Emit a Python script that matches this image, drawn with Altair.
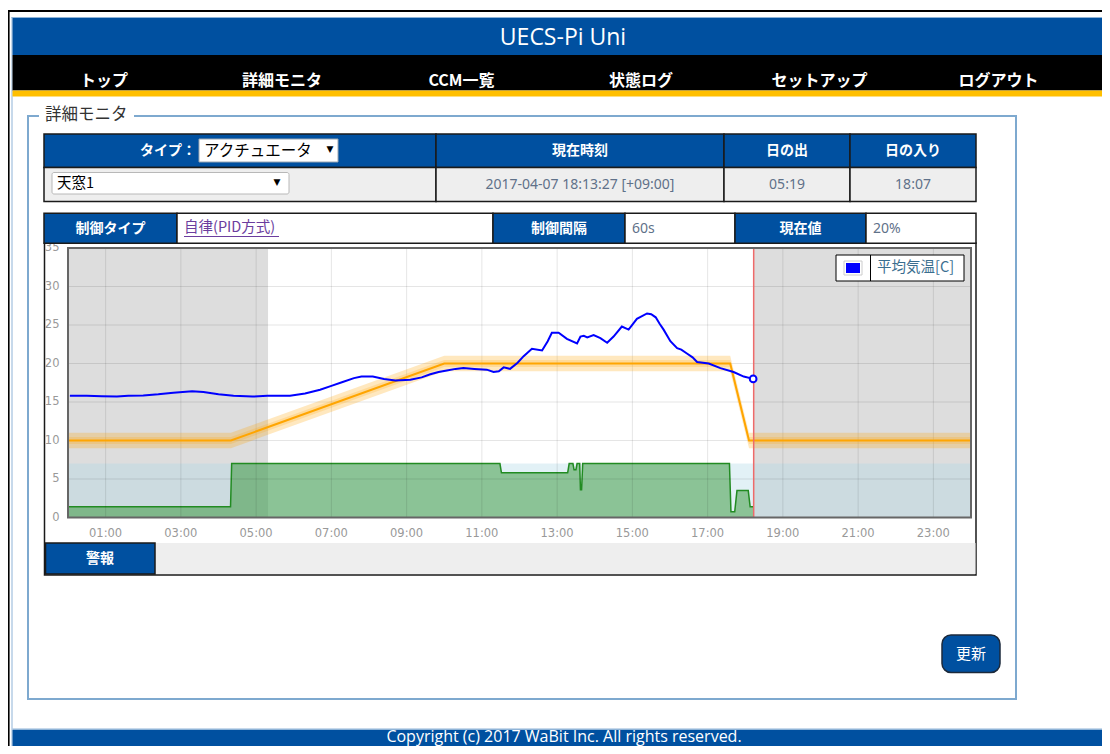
import altair as alt
import pandas as pd

OFF = 8.0
BLUE = "#0050a0"
JP = "Noto Sans CJK JP"
LAT = "Open Sans"
TICKF = "DejaVu Sans"
GRAYTXT = "#5f7189"

# ---------------- data ----------------
temp_hours = [0.05, 0.5, 0.9, 1.3, 1.6, 2.0, 2.4, 2.8, 3.3, 3.6,
              4.0, 4.4, 4.9, 5.3, 5.6, 5.9, 6.3, 6.7, 7.0, 7.3,
              7.6, 7.8, 8.1, 8.4, 8.7, 9.1, 9.4, 9.63, 9.85, 10.07,
              10.3, 10.51, 10.8, 11.13, 11.31, 11.45, 11.58, 11.75, 11.95, 12.11,
              12.33, 12.6, 12.75, 12.86, 13.04, 13.26, 13.53, 13.62, 13.71, 13.8,
              13.97, 14.15, 14.33, 14.5, 14.72, 14.9, 15.12, 15.39, 15.5, 15.62,
              15.72, 15.83, 16.01, 16.19, 16.3, 16.45, 16.6, 16.72, 17.03, 17.34,
              17.69, 17.96, 18.21]
temp_values = [15.8, 15.8, 15.75, 15.7, 15.8, 15.85, 16.0, 16.2, 16.4, 16.3,
               16.0, 15.8, 15.7, 15.8, 15.8, 15.8, 16.1, 16.6, 17.1, 17.6,
               18.1, 18.3, 18.3, 18.0, 17.8, 17.9, 18.2, 18.6, 18.9, 19.1,
               19.3, 19.4, 19.3, 19.2, 18.9, 19.0, 19.5, 19.3, 20.1, 20.95,
               21.9, 21.7, 22.9, 24.0, 24.0, 23.2, 22.6, 23.5, 23.6, 23.4,
               23.7, 23.3, 22.7, 23.5, 24.8, 24.4, 25.8, 26.5, 26.4, 26.0,
               25.2, 24.4, 22.9, 22.0, 21.8, 21.3, 20.8, 20.2, 20.0, 19.4,
               18.9, 18.3, 18.0]

act_hours = [0.0, 4.32, 4.35, 11.48, 11.52, 13.28, 13.32, 13.42, 13.45, 13.5,
             13.53, 13.6, 13.62, 13.65, 13.68, 17.58, 17.62, 17.72, 17.78, 18.08,
             18.13, 18.21]
act_values = [1.4, 1.4, 7.0, 7.0, 5.8, 5.8, 7.0, 7.0, 6.2, 6.2,
              7.0, 7.0, 3.6, 3.6, 7.0, 7.0, 0.75, 0.75, 3.5, 3.5,
              1.4, 1.4]
act_max = 7.0

sp_hours = [0.0, 4.33, 10.0, 17.6, 18.1, 24.0]
sp_values = [10, 10, 20, 20, 10, 10]

y_ticks = [0, 5, 10, 15, 20, 25, 30, 35]
x_tick_hours = [1, 3, 5, 7, 9, 11, 13, 15, 17, 19, 21, 23]
x_tick_labels = ["01:00", "03:00", "05:00", "07:00", "09:00", "11:00",
                 "13:00", "15:00", "17:00", "19:00", "21:00", "23:00"]

sunrise_h = 5 + 19 / 60
now_h = 18 + 13 / 60 + 27 / 3600

nav_items = ["トップ", "詳細モニタ", "CCM一覧", "状態ログ", "セットアップ", "ログアウト"]

# ---------------- helpers ----------------
ONE = alt.Data(values=[{"k": 0}])


def box(x1, y1, x2, y2, fill="white", stroke=None, sw=1.0, r=0, opacity=1.0):
    kw = dict(fill=fill, opacity=opacity)
    if stroke:
        kw.update(stroke=stroke, strokeWidth=sw)
    if r:
        kw["cornerRadius"] = r
    return alt.Chart(ONE).mark_rect(**kw).encode(
        x=alt.value(x1 - OFF), x2=alt.value(x2 - OFF),
        y=alt.value(y1 - OFF), y2=alt.value(y2 - OFF))


def label(s, x, y, size=14, color="white", align="center", weight="normal",
          font=JP, baseline="middle"):
    return alt.Chart(ONE).mark_text(
        text=s, fontSize=size, color=color, align=align, baseline=baseline,
        font=font, fontWeight=weight).encode(
        x=alt.value(x - OFF), y=alt.value(y - OFF))


def hline(x1, x2, y, color, w=1.0):
    return alt.Chart(ONE).mark_rule(color=color, strokeWidth=w).encode(
        x=alt.value(x1 - OFF), x2=alt.value(x2 - OFF), y=alt.value(y - OFF))


layers = []

# ---------------- page frame / header ----------------
layers += [
    box(8, 10, 1110, 12, fill="black"),
    box(8, 10, 9.6, 754, fill="black"),
    box(11.5, 17, 1110, 18, fill="#8fb4d8"),
    box(11.5, 17, 12.5, 754, fill="#8fb4d8"),
    box(12.5, 18, 1110, 55, fill=BLUE),
    box(12.5, 55, 1110, 90.5, fill="black"),
    box(12.5, 90.5, 1110, 96.5, fill="#ffbf00"),
    label("UECS-Pi Uni", 563, 37.5, size=23, font=LAT),
]
nav_x = [104, 282, 461.5, 641, 819.5, 998.5]
for s, x in zip(nav_items, nav_x):
    layers.append(label(s, x, 80.5, size=16, weight="bold"))

# ---------------- fieldset ----------------
layers += [
    box(28, 116, 1016, 699, fill="white", stroke="#7ea9cf", sw=2),
    box(39, 108, 134, 124, fill="white"),
    label("詳細モニタ", 45, 115, size=16.5, color="#333333", align="left"),
]

# ---------------- table 1 ----------------
cols1 = [44, 436, 724, 850, 976]
for i in range(4):
    layers.append(box(cols1[i], 134, cols1[i + 1], 167.5, fill=BLUE, stroke="#1a1a1a", sw=1.5))
for i in range(4):
    layers.append(box(cols1[i], 167.5, cols1[i + 1], 201.5, fill="#eeeeee", stroke="#1a1a1a", sw=1.5))
layers += [
    label("タイプ：", 196, 151, size=14, align="right", weight="bold"),
    box(199, 139, 338, 162, fill="white", stroke="#9aa5b1", sw=1),
    label("アクチュエータ", 204, 151, size=15.5, color="black", align="left"),
    label("▼", 330, 149, size=9, color="black", font=TICKF),
    label("現在時刻", 580, 151, size=14, weight="bold"),
    label("日の出", 787, 151, size=14, weight="bold"),
    label("日の入り", 913, 151, size=14, weight="bold"),
    box(52, 172.5, 289, 194, fill="white", stroke="#b8b8b8", sw=1, r=2),
    label("天窓1", 57, 184, size=14.5, color="black", align="left"),
    label("▼", 277, 182, size=9, color="black", font=TICKF),
    label("2017-04-07 18:13:27 [+09:00]", 580, 184.5, size=14, color=GRAYTXT, font="Noto Sans"),
    label("05:19", 787, 184.5, size=14, color=GRAYTXT, font="Noto Sans"),
    label("18:07", 913, 184.5, size=14, color=GRAYTXT, font="Noto Sans"),
]

# ---------------- chart container ----------------
layers.append(box(44.5, 243, 976, 575, fill="white", stroke="#1a1a1a", sw=1.5))

XS = alt.Scale(domain=[0, 24], range=[68 - OFF, 971 - OFF], nice=False, zero=False)
YS = alt.Scale(domain=[0, 35], range=[517.5 - OFF, 248 - OFF], nice=False, zero=False)


def X(f):
    return alt.X(f, scale=XS, axis=None)


def Y(f):
    return alt.Y(f, scale=YS, axis=None)


night_df = pd.DataFrame({"a": [0, now_h], "b": [sunrise_h, 24], "lo": [0, 0], "hi": [35, 35]})
range_df = pd.DataFrame({"a": [0], "b": [24], "lo": [0], "hi": [act_max]})
act_df = pd.DataFrame({"h": act_hours, "v": act_values, "base": [0.0] * len(act_hours)})
temp_df = pd.DataFrame({"h": temp_hours, "v": temp_values})
sp_df = pd.DataFrame({"h": sp_hours, "v": sp_values})
gv_df = pd.DataFrame({"h": x_tick_hours, "lo": [0] * len(x_tick_hours), "hi": [35] * len(x_tick_hours)})
gh_vals = y_ticks[1:-1]
gh_df = pd.DataFrame({"v": gh_vals, "a": [0] * len(gh_vals), "b": [24] * len(gh_vals)})
now_df = pd.DataFrame({"h": [now_h], "lo": [0], "hi": [35]})
frame_df = pd.DataFrame({"a": [0], "b": [24], "lo": [0], "hi": [35]})
yt_df = pd.DataFrame({"v": y_ticks, "t": [str(t) for t in y_ticks]})
xt_df = pd.DataFrame({"h": x_tick_hours, "t": x_tick_labels})

layers += [
    alt.Chart(night_df).mark_rect(color="#dddddd").encode(
        x=X("a:Q"), x2="b:Q", y=Y("lo:Q"), y2="hi:Q"),
    alt.Chart(range_df).mark_rect(color="#add8e6", opacity=0.35).encode(
        x=X("a:Q"), x2="b:Q", y=Y("lo:Q"), y2="hi:Q"),
    alt.Chart(act_df).mark_area(color="#228b22", opacity=0.45).encode(
        x=X("h:Q"), y=Y("v:Q"), y2="base:Q"),
    alt.Chart(act_df).mark_line(color="#228b22", strokeWidth=1.5).encode(
        x=X("h:Q"), y=Y("v:Q")),
    alt.Chart(gv_df).mark_rule(color="black", opacity=0.1, strokeWidth=1).encode(
        x=X("h:Q"), y=Y("lo:Q"), y2="hi:Q"),
    alt.Chart(gh_df).mark_rule(color="black", opacity=0.1, strokeWidth=1).encode(
        y=Y("v:Q"), x=X("a:Q"), x2="b:Q"),
    alt.Chart(sp_df).transform_calculate(lo="datum.v - 1", hi="datum.v + 1").mark_area(
        color="#ffa500", opacity=0.25).encode(x=X("h:Q"), y=Y("lo:Q"), y2="hi:Q"),
    alt.Chart(sp_df).transform_calculate(lo="datum.v - 0.45", hi="datum.v + 0.45").mark_area(
        color="#ffa500", opacity=0.2).encode(x=X("h:Q"), y=Y("lo:Q"), y2="hi:Q"),
    alt.Chart(sp_df).mark_line(color="#ffa500", strokeWidth=2).encode(
        x=X("h:Q"), y=Y("v:Q")),
    alt.Chart(temp_df).mark_line(color="#0000ff", strokeWidth=2).encode(
        x=X("h:Q"), y=Y("v:Q")),
    alt.Chart(now_df).mark_rule(color="#ee6a6a", strokeWidth=1.5).encode(
        x=X("h:Q"), y=Y("lo:Q"), y2="hi:Q"),
    alt.Chart(temp_df.tail(1)).mark_point(shape="circle", filled=True, fill="white",
                                          stroke="#0000ff", strokeWidth=2, size=45,
                                          opacity=1).encode(x=X("h:Q"), y=Y("v:Q")),
    alt.Chart(frame_df).mark_rect(fill="transparent", stroke="#666666", strokeWidth=2).encode(
        x=X("a:Q"), x2="b:Q", y=Y("lo:Q"), y2="hi:Q"),
    alt.Chart(yt_df).mark_text(align="right", baseline="middle", font=TICKF, fontSize=11.5,
                               color="#999999").encode(
        x=alt.value(59.5 - OFF), y=Y("v:Q"), text="t:N"),
    alt.Chart(xt_df).mark_text(align="center", baseline="middle", font=TICKF, fontSize=11.5,
                               color="#999999").encode(
        x=X("h:Q"), y=alt.value(533.5 - OFF), text="t:N"),
]

# chart legend
layers += [
    box(836, 255, 964, 281, fill="white", stroke="black", sw=1),
    box(870, 255, 871, 281, fill="black"),
    box(844, 261, 862, 275, fill="white", stroke="#cccccc", sw=1),
    box(846, 263, 860, 273, fill="#0000ff"),
    label("平均気温[C]", 877, 268, size=14.5, color="#3a6e8f", align="left"),
]

# alarm row
layers += [
    box(45.5, 543, 975.5, 574, fill="#eeeeee"),
    box(45.5, 543, 155, 574, fill=BLUE, stroke="#1a1a1a", sw=1.5),
    label("警報", 100, 558.5, size=14, weight="bold"),
]

# ---------------- table 2 (drawn over the plot top) ----------------
cols2 = [44, 177, 493, 625, 735, 866, 976]
fills2 = [BLUE, "white", BLUE, "white", BLUE, "white"]
for i in range(6):
    layers.append(box(cols2[i], 213.3, cols2[i + 1], 243.3, fill=fills2[i], stroke="#1a1a1a", sw=1.5))
layers += [
    label("制御タイプ", 110.5, 228.5, size=14, weight="bold"),
    label("自律(PID方式)", 184, 228, size=14.5, color="#6b3d9e", align="left"),
    hline(184, 279, 236.5, "#6b3d9e", 1),
    label("制御間隔", 559, 228.5, size=14, weight="bold"),
    label("60s", 632, 228.5, size=14, color=GRAYTXT, align="left", font="Noto Sans"),
    label("現在値", 800.5, 228.5, size=14, weight="bold"),
    label("20%", 873, 228.5, size=14, color=GRAYTXT, align="left", font="Noto Sans"),
]

# ---------------- button ----------------
layers += [
    box(942, 635, 1000, 672.5, fill=BLUE, stroke="#1c2a3c", sw=1.5, r=9),
    label("更新", 971, 654, size=15),
]

# ---------------- footer ----------------
layers += [
    box(12.5, 728.5, 1110, 730, fill="#8fb4d8"),
    box(12.5, 730, 1110, 754, fill=BLUE),
    label("Copyright (c) 2017 WaBit Inc. All rights reserved.", 564, 741.5, size=16,
          font=LAT, baseline="alphabetic"),
]

chart = alt.layer(*layers).properties(
    width=1094, height=738,
    autosize=alt.AutoSizeParams(type="none"),
    padding=0,
    background="white",
).configure_view(strokeWidth=0)

chart.save("out.html", embed_options={"renderer": "svg", "actions": False})
